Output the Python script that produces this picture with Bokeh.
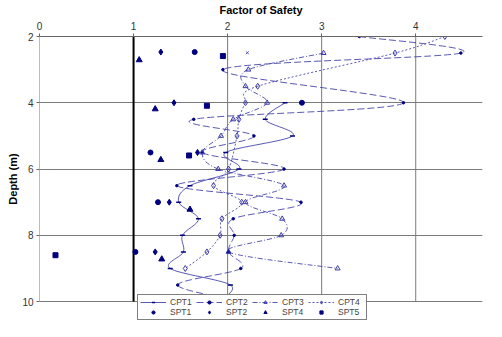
from bokeh.plotting import figure
from bokeh.models import Range1d, FixedTicker, Legend, LegendItem
from bokeh.embed import file_html
from bokeh.resources import INLINE

# ---------------- data ----------------
x_ticks = [0, 1, 2, 3, 4]
y_ticks = [2, 4, 6, 8, 10]

cpt1_depth = [4.0, 4.5, 5.0, 5.5, 6.0, 6.5, 7.0, 7.5, 8.0, 8.5, 9.0, 9.5, 10.0]
cpt1_fs    = [2.61, 2.40, 2.69, 1.98, 2.12, 1.60, 1.48, 1.69, 1.52, 1.53, 1.39, 2.03, 1.91]

cpt2_depth = [2.0, 2.5, 3.0, 4.0, 4.5, 5.0, 5.5, 6.0, 6.5, 7.0, 7.5, 8.0, 8.5, 9.0, 9.5, 10.0]
cpt2_fs    = [3.40, 4.48, 1.95, 3.87, 1.64, 2.28, 1.73, 2.60, 1.46, 2.78, 2.06, 2.07, 2.01, 2.14, 1.47, 2.16]

cpt3_depth = [2.5, 3.0, 3.5, 4.0, 4.5, 5.0, 5.5, 6.0, 6.5, 7.0, 7.5, 8.0, 8.5, 9.0]
cpt3_fs    = [3.02, 2.22, 2.19, 2.42, 2.06, 1.93, 1.73, 1.90, 2.60, 2.19, 2.58, 2.57, 2.01, 3.17]

cpt4_depth = [2.0, 2.5, 3.5, 4.0, 4.5, 5.0, 6.0, 6.5, 7.0, 7.5, 8.0, 8.5, 9.0]
cpt4_fs    = [4.31, 3.78, 2.32, 2.19, 2.12, 2.10, 2.01, 1.85, 2.15, 1.94, 1.92, 1.78, 1.55]

spt1_depth = [2.47, 4.0, 5.5, 7.0, 8.5, 10.0]
spt1_fs    = [1.65, 2.79, 1.18, 1.26, 1.02, 1.44]

spt2_depth = [2.47, 4.0, 5.5, 7.0, 8.5]
spt2_fs    = [1.29, 1.43, 1.68, 1.38, 1.23]

spt3_depth = [2.49]
spt3_fs    = [2.21]

spt4_depth = [2.71, 4.19, 5.72, 7.22, 8.72]
spt4_fs    = [1.06, 1.23, 1.29, 1.60, 1.30]

spt5_depth = [2.59, 4.09, 5.59, 8.60]
spt5_fs    = [1.95, 1.78, 1.59, 0.17]

fs_limit = 1  # factor of safety = 1 reference line

# ---------------- figure ----------------
# y range runs a little past 10 m so the legend can sit under the 10 m line
p = figure(width=486, height=321, output_backend="svg", toolbar_location=None,
           x_range=Range1d(0, 4.71), y_range=Range1d(10.6, 2),
           x_axis_location="above",
           min_border_left=39, min_border_right=4, min_border_top=36, min_border_bottom=0)
p.outline_line_color = None
p.background_fill_color = "white"

FONT = "Liberation Sans"
GRID_C = "#7a7a7a"
for ax in (p.xaxis[0], p.yaxis[0]):
    ax.major_label_text_font = FONT
    ax.major_label_text_font_size = "10px"
    ax.major_label_text_color = "#333333"
    ax.axis_label_text_font = FONT
    ax.axis_label_text_font_style = "bold"
    ax.axis_label_text_font_size = "11px"
    ax.axis_label_text_color = "black"
    ax.axis_line_color = "#666666"
    ax.major_tick_line_color = "#666666"
    ax.minor_tick_line_color = None
    ax.major_tick_in = 0
    ax.major_tick_out = 3

p.xaxis[0].ticker = FixedTicker(ticks=x_ticks)
p.yaxis[0].ticker = FixedTicker(ticks=y_ticks)
p.xaxis[0].axis_label = "Factor of Safety"
p.yaxis[0].axis_label = "Depth (m)"
p.xaxis[0].major_label_standoff = 4
p.xaxis[0].axis_label_standoff = 3
p.yaxis[0].major_label_standoff = 3
p.yaxis[0].axis_label_standoff = 0
p.yaxis[0].axis_line_color = None

p.xgrid.visible = False
p.ygrid.ticker = FixedTicker(ticks=y_ticks)
p.ygrid.grid_line_color = GRID_C
p.ygrid.grid_line_width = 1

n_v = len(x_ticks)
# left axis line + vertical grid lines, limited to the 2-10 m span
p.segment(x0=x_ticks, y0=[y_ticks[0]] * n_v, x1=x_ticks, y1=[y_ticks[-1]] * n_v,
          line_color=GRID_C, line_width=1)
# FS = 1 line
p.segment(x0=[fs_limit], y0=[y_ticks[0]], x1=[fs_limit], y1=[y_ticks[-1]],
          line_color="black", line_width=2)

LINE_C = "#3c3ca8"
MARK_C = "#000080"


def smooth(xs, ys, dash, width=1.0, alpha=0.85):
    n = len(xs)
    x0, y0, x1, y1, cx0, cy0, cx1, cy1 = [], [], [], [], [], [], [], []
    for i in range(n - 1):
        ia, ib = max(i - 1, 0), min(i + 2, n - 1)
        x0.append(xs[i]); y0.append(ys[i]); x1.append(xs[i + 1]); y1.append(ys[i + 1])
        cx0.append(xs[i] + (xs[i + 1] - xs[ia]) / 6.0)
        cy0.append(ys[i] + (ys[i + 1] - ys[ia]) / 6.0)
        cx1.append(xs[i + 1] - (xs[ib] - xs[i]) / 6.0)
        cy1.append(ys[i + 1] - (ys[ib] - ys[i]) / 6.0)
    p.bezier(x0=x0, y0=y0, x1=x1, y1=y1, cx0=cx0, cy0=cy0, cx1=cx1, cy1=cy1,
             line_color=LINE_C, line_width=width, line_dash=dash, line_alpha=alpha)
    # single-point line: draws nothing in the plot, only used for the legend sample
    return p.line(x=xs[:1], y=ys[:1], line_color=LINE_C, line_width=width,
                  line_dash=dash, line_alpha=alpha)


items = []
l1 = smooth(cpt1_fs, cpt1_depth, "solid")
m1 = p.scatter(cpt1_fs, cpt1_depth, marker="dash", size=5, line_color=MARK_C, line_width=1.5)
items.append(LegendItem(label="CPT1", renderers=[l1, m1]))

l2 = smooth(cpt2_fs, cpt2_depth, "7 3")
m2 = p.scatter(cpt2_fs, cpt2_depth, marker="circle", size=2.5, line_color=MARK_C, fill_color=MARK_C)
items.append(LegendItem(label="CPT2", renderers=[l2, m2]))

l3 = smooth(cpt3_fs, cpt3_depth, "5 2 1 2")
m3 = p.scatter(cpt3_fs, cpt3_depth, marker="triangle", size=5, line_color=LINE_C, fill_color=None)
items.append(LegendItem(label="CPT3", renderers=[l3, m3]))

l4 = smooth(cpt4_fs, cpt4_depth, "2 2")
m4 = p.scatter(cpt4_fs, cpt4_depth, marker="diamond", size=6, line_color=LINE_C, fill_color=None)
items.append(LegendItem(label="CPT4", renderers=[l4, m4]))

s1 = p.scatter(spt1_fs, spt1_depth, marker="circle", size=5, color=MARK_C)
items.append(LegendItem(label="SPT1", renderers=[s1]))
s2 = p.scatter(spt2_fs, spt2_depth, marker="diamond", size=6, color=MARK_C)
items.append(LegendItem(label="SPT2", renderers=[s2]))
p.scatter(spt3_fs, spt3_depth, marker="x", size=4, line_color="#5050b0")
s4 = p.scatter(spt4_fs, spt4_depth, marker="triangle", size=6, color=MARK_C)
items.append(LegendItem(label="SPT4", renderers=[s4]))
s5 = p.scatter(spt5_fs, spt5_depth, marker="square", size=5, color=MARK_C)
items.append(LegendItem(label="SPT5", renderers=[s5]))

legend = Legend(items=items, orientation="horizontal", ncols=4, location=(98, 1),
                label_text_font=FONT, label_text_font_size="8.5px",
                label_height=8, glyph_height=8, glyph_width=26, label_width=26,
                label_standoff=4, spacing=0, padding=2, margin=0,
                border_line_color="black", border_line_width=1,
                background_fill_color="white", background_fill_alpha=1)
p.add_layout(legend, "center")

open("out.html", "w").write(file_html(p, INLINE))
